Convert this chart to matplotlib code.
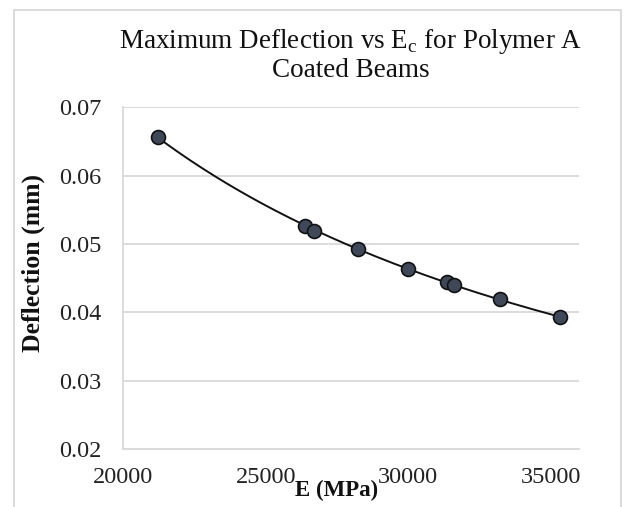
import numpy as np
import matplotlib
matplotlib.use("Agg")
import matplotlib.pyplot as plt
from matplotlib.patches import Rectangle

plt.rcParams['font.family'] = ['Liberation Serif', 'DejaVu Serif']
plt.rcParams['mathtext.fontset'] = 'custom'
plt.rcParams['mathtext.rm'] = 'Liberation Serif'

# Data
modulus_mpa = [21210, 26390, 26680, 28230, 29990, 31360, 31600, 33220, 35330]
deflection_mm = [0.0657, 0.0527, 0.0519, 0.0492, 0.0464, 0.0444, 0.0440, 0.0419, 0.0393]

x_ticks = [20000, 25000, 30000, 35000]
y_ticks = [0.02, 0.03, 0.04, 0.05, 0.06, 0.07]
y_tick_labels = ['0.02', '0.03', '0.04', '0.05', '0.06', '0.07']

W, H = 628, 507
fig = plt.figure(figsize=(W / 100, H / 100), dpi=100)
fig.patch.set_facecolor('white')

# chart-area frame
fig.patches.append(Rectangle((14 / W, -0.05), (621 - 14) / W, 1.05 - 10 / H,
                             transform=fig.transFigure, fill=False,
                             edgecolor='#d4d4d4', linewidth=1.2))

ax_l, ax_r, ax_t, ax_b = 123.3, 579.3, 107.3, 449.0
ax = fig.add_axes([ax_l / W, 1 - ax_b / H, (ax_r - ax_l) / W, (ax_b - ax_t) / H])

x = np.array(modulus_mpa, dtype=float)
y = np.array(deflection_mm, dtype=float)

# power trendline through the data
b, a = np.polyfit(np.log(x), np.log(y), 1)
xs = np.linspace(x.min(), x.max(), 200)
ax.plot(xs, np.exp(a) * xs ** b, color='#111111', linewidth=1.4, zorder=3)

ax.plot(x, y, linestyle='none', marker='o', markersize=10,
        markerfacecolor='#3e4858', markeredgecolor='#111111',
        markeredgewidth=1.2, zorder=4)

ax.set_xlim(20000, 36000)
ax.set_ylim(0.02, 0.07)
ax.set_xticks(x_ticks)
ax.set_xticklabels([str(t) for t in x_ticks])
ax.set_yticks(y_ticks)
ax.set_yticklabels(y_tick_labels)
ax.tick_params(axis='both', length=0, labelsize=17.5, colors='#222222')
ax.tick_params(axis='y', pad=15.5)
ax.tick_params(axis='x', pad=13)

ax.grid(axis='y', color='#d9d9d9', linewidth=1.3)
ax.set_axisbelow(True)
for s in ['top', 'right']:
    ax.spines[s].set_visible(False)
ax.spines['left'].set_color('#d9d9d9')
ax.spines['left'].set_linewidth(1.3)
ax.spines['bottom'].set_color('#d9d9d9')
ax.spines['bottom'].set_linewidth(1.3)

ax.set_xlabel('E (MPa)', fontsize=16.5, fontweight='bold', color='#111111', va='center')
ax.xaxis.set_label_coords((337 - ax_l) / (ax_r - ax_l), -(490 - ax_b) / (ax_b - ax_t))
ax.set_ylabel('Deflection (mm)', fontsize=18.5, fontweight='bold', color='#111111', va='center')
ax.yaxis.set_label_coords(-(ax_l - 33) / (ax_r - ax_l), (ax_b - 263) / (ax_b - ax_t))

fig.text(351 / W, 1 - 27 / H,
         'Maximum Deflection vs E$_\\mathregular{c}$ for Polymer A\nCoated Beams',
         ha='center', va='top', fontsize=19.5, color='#111111', linespacing=1.12)

fig.savefig('out.png', dpi=100)
